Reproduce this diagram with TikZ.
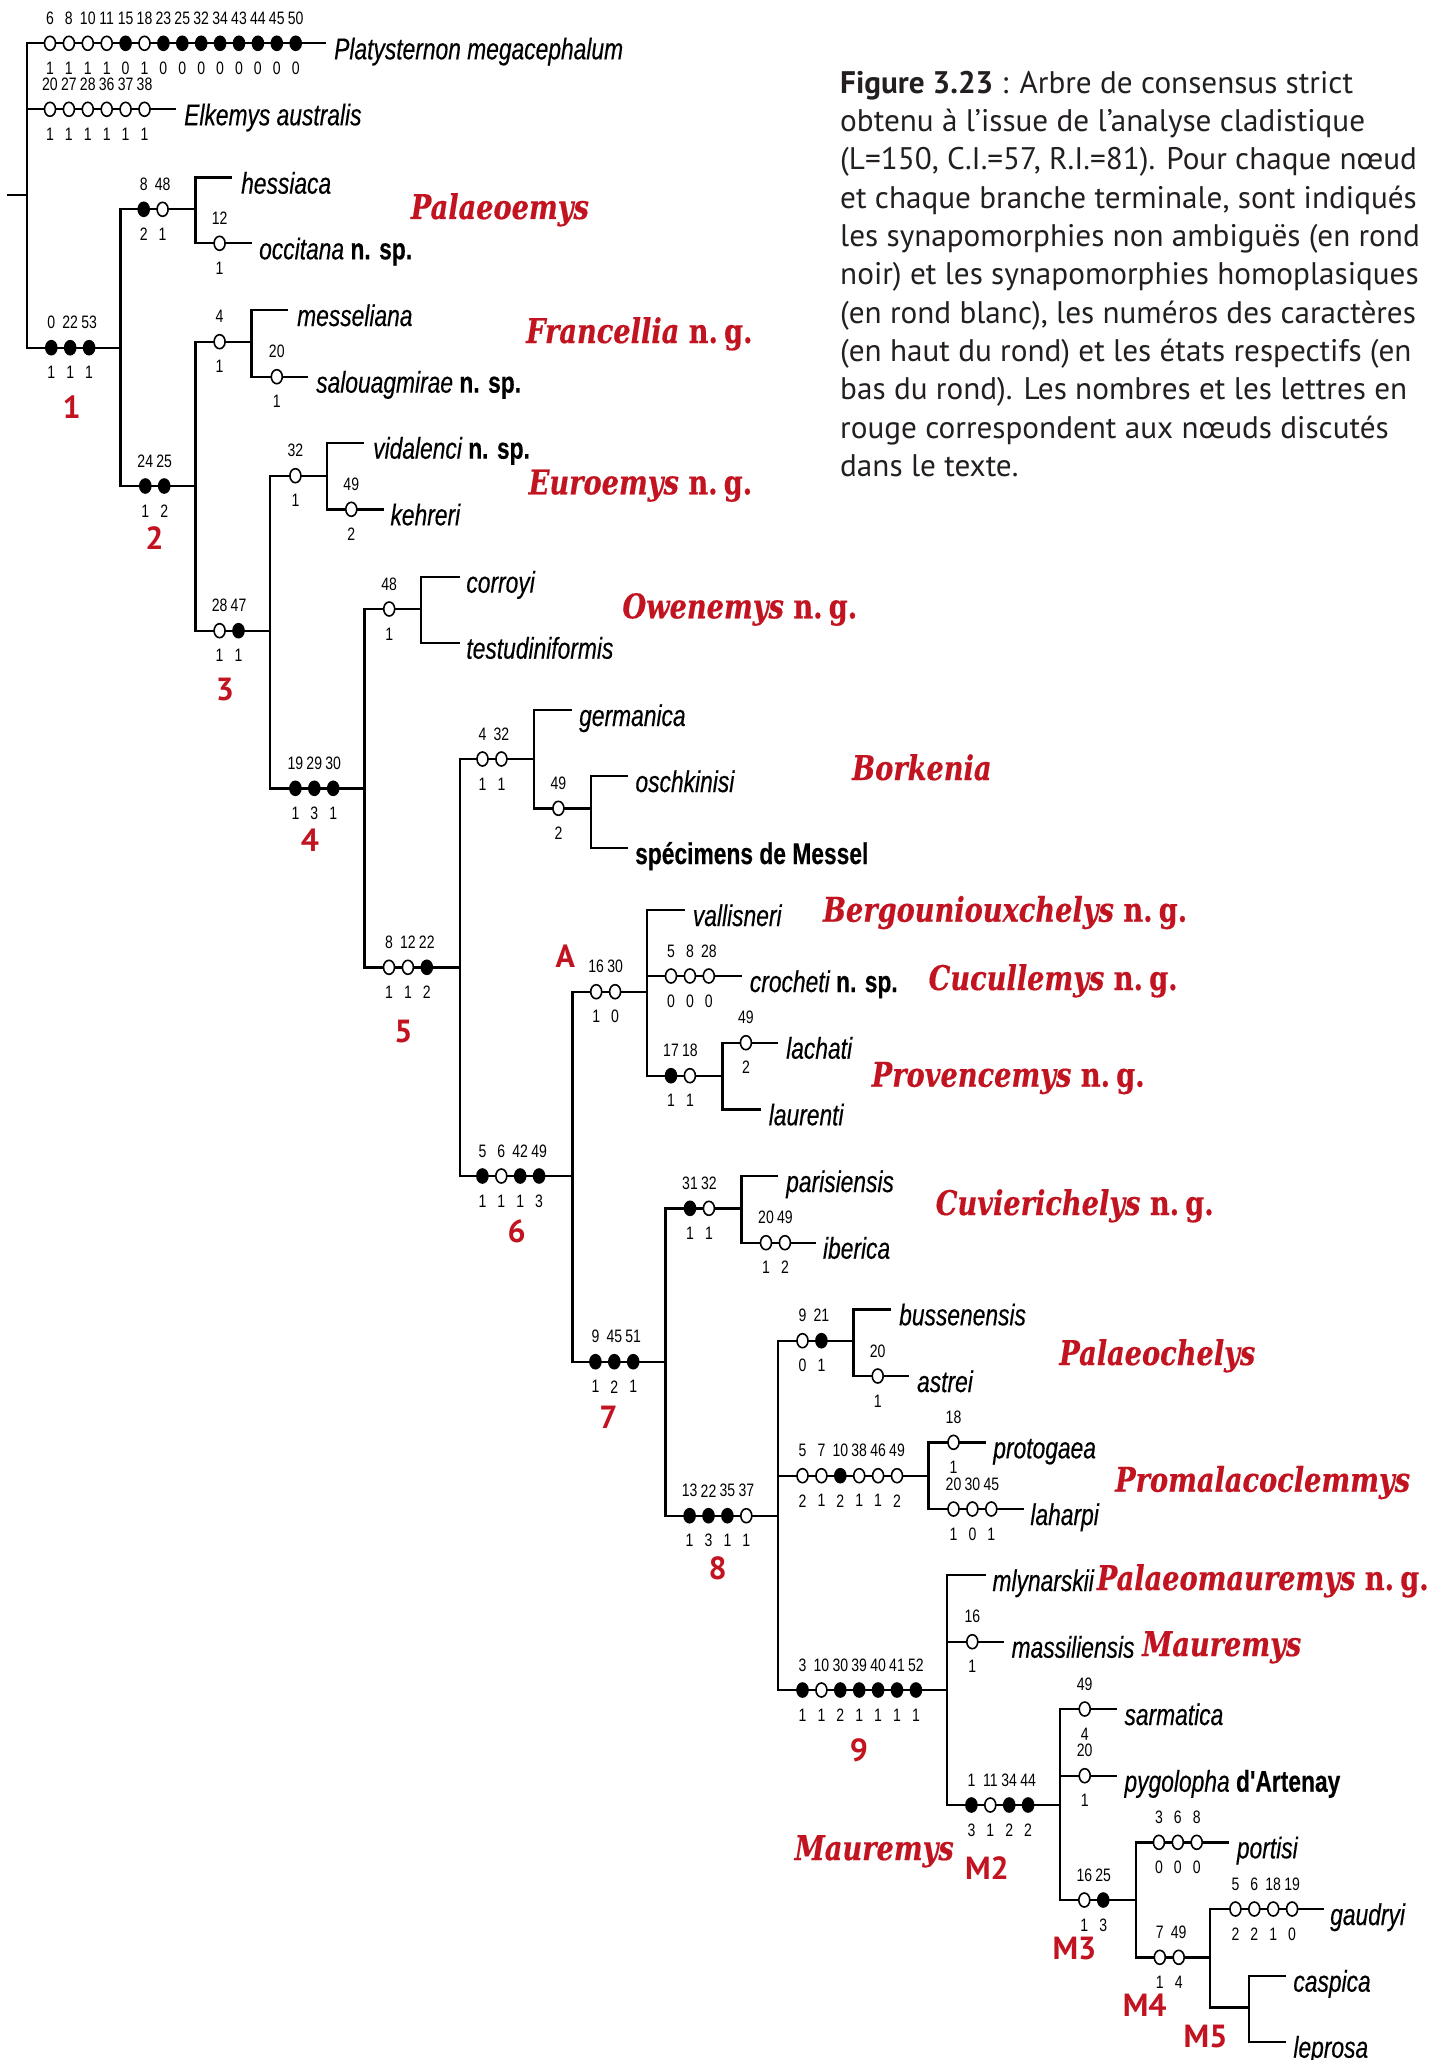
\documentclass[tikz,border=0pt]{standalone}
\usepackage{fontspec}
\usetikzlibrary{shapes.geometric}
\setmainfont{Liberation Sans}
\newfontfamily\taxfont[FakeStretch=0.76,FakeBold=0.3]{Liberation Sans}
\newfontfamily\numfont[FakeStretch=0.78]{Liberation Sans}
\newfontfamily\genfont[FakeStretch=0.8,FakeBold=0.4]{DejaVu Serif}
\newfontfamily\capfont{PT Sans}
\definecolor{cladered}{RGB}{194,20,32}
\definecolor{captext}{RGB}{35,31,32}

\tikzset{
  x=1pt, y=-1pt,
  branch/.style={line width=2.4pt, line join=miter},
  apo/.style={ellipse, draw, line width=1.6pt, minimum width=11pt, minimum height=14pt, inner sep=0pt},
  hom/.style={apo, fill=white},
  syn/.style={apo, fill=black},
  chnum/.style={inner sep=0pt, font=\numfont\fontsize{18}{18}\selectfont},
  taxon/.style={anchor=base west, inner sep=0pt, font=\taxfont\itshape\fontsize{30}{30}\selectfont},
  genus/.style={anchor=base west, inner sep=0pt, text=cladered, font=\genfont\bfseries\itshape\fontsize{34}{34}\selectfont},
  nodeid/.style={inner sep=0pt, text=cladered, font=\capfont\bfseries\fontsize{32}{32}\selectfont},
  caption/.style={anchor=base west, inner sep=0pt, text=captext, font=\capfont\fontsize{31.2}{31.2}\selectfont}
}

% one row of character states along a branch: name, first x, y, {kind/character/state,...}
\newcommand\charrow[4]{%
  \foreach \k/\c/\s [count=\i from 0] in {#4} {
    \node[\k] (#1-\i) at ({#2+\i*18.9},#3) {};
    \node[chnum] at ({#2+\i*18.9},{#3-25}) {\c};
    \node[chnum] at ({#2+\i*18.9},{#3+25}) {\s};
  }}
\newcommand\novgen{{\upshape n.\hspace{0.18em}g.}}
\newcommand\novsp{{\upshape\bfseries n. sp.}}

\begin{document}
\begin{tikzpicture}
\fill[white] (0,0) rectangle (1447,2060);
\useasboundingbox (0,0) rectangle (1447,2060);

% ---------- junction points ----------
\coordinate (stub) at (6.7,195);   \coordinate (root) at (26.8,195);
\coordinate (pl0) at (26.8,43.3);  \coordinate (plE) at (326,43.3);
\coordinate (el0) at (26.8,109.3); \coordinate (elE) at (176,109.3);
\coordinate (n1a) at (26.8,347.7); \coordinate (n1) at (120.5,347.7);
\coordinate (pa0) at (120.5,209.3); \coordinate (pa) at (195.5,209.3);
\coordinate (n2a) at (120.5,486);  \coordinate (n2) at (195.5,486);
\coordinate (he0) at (195.5,177.7); \coordinate (heE) at (232,177.7);
\coordinate (oc0) at (195.5,243.3); \coordinate (ocE) at (252,243.3);
\coordinate (fr0) at (195.5,341.7); \coordinate (fr) at (251.3,341.7);
\coordinate (n3a) at (195.5,630.7); \coordinate (n3) at (270,630.7);
\coordinate (me0) at (251.3,310);  \coordinate (meE) at (288,310);
\coordinate (sa0) at (251.3,376.7); \coordinate (saE) at (308,376.7);
\coordinate (eu0) at (270,475.7);  \coordinate (eu) at (327,475.7);
\coordinate (n4a) at (270,788.3);  \coordinate (n4) at (364.3,788.3);
\coordinate (vi0) at (327,442.7);  \coordinate (viE) at (364.3,442.7);
\coordinate (ke0) at (327,509.3);  \coordinate (keE) at (383.8,509.3);
\coordinate (ow0) at (364.3,609);  \coordinate (ow) at (420.7,609);
\coordinate (n5a) at (364.3,967.3); \coordinate (n5) at (459.7,967.3);
\coordinate (co0) at (420.7,576.7); \coordinate (coE) at (459.7,576.7);
\coordinate (te0) at (420.7,642.7); \coordinate (teE) at (459.7,642.7);
\coordinate (bo0) at (459.7,759);  \coordinate (bo) at (534,759);
\coordinate (n6a) at (459.7,1176); \coordinate (n6) at (572.4,1176);
\coordinate (ge0) at (534,710);    \coordinate (geE) at (572,710);
\coordinate (os0) at (534,808.3);  \coordinate (os) at (590.9,808.3);
\coordinate (ox0) at (590.9,776);  \coordinate (oxE) at (627.8,776);
\coordinate (ms0) at (590.9,848);  \coordinate (msE) at (627.8,848);
\coordinate (A0) at (572.4,991.7); \coordinate (A) at (646.7,991.7);
\coordinate (n7a) at (572.4,1361.7); \coordinate (n7) at (665.6,1361.7);
\coordinate (va0) at (646.7,910);  \coordinate (vaE) at (684.6,910);
\coordinate (cr0) at (646.7,976);  \coordinate (crE) at (741.5,976);
\coordinate (pr0) at (646.7,1075.7); \coordinate (pr) at (722.5,1075.7);
\coordinate (la0) at (722.5,1042.7); \coordinate (laE) at (778.4,1042.7);
\coordinate (lu0) at (722.5,1109.3); \coordinate (luE) at (760.5,1109.3);
\coordinate (cu0) at (665.6,1208.3); \coordinate (cu) at (741.5,1208.3);
\coordinate (n8a) at (665.6,1515.7); \coordinate (n8) at (778,1515.7);
\coordinate (pz0) at (741.5,1176); \coordinate (pzE) at (778.4,1176);
\coordinate (ib0) at (741.5,1242.7); \coordinate (ibE) at (816.3,1242.7);
\coordinate (pc0) at (778,1340.7); \coordinate (pc) at (853.3,1340.7);
\coordinate (pm0) at (778,1475.7); \coordinate (pm) at (928.5,1475.7);
\coordinate (n9a) at (778,1690);   \coordinate (n9) at (946.9,1690);
\coordinate (bu0) at (853.3,1309.3); \coordinate (buE) at (891.4,1309.3);
\coordinate (as0) at (853.3,1376); \coordinate (asE) at (909.2,1376);
\coordinate (pt0) at (928.5,1442.3); \coordinate (ptE) at (985.5,1442.3);
\coordinate (lh0) at (928.5,1509); \coordinate (lhE) at (1023.6,1509);
\coordinate (ml0) at (946.9,1575); \coordinate (mlE) at (985.6,1575);
\coordinate (mt0) at (946.9,1641.7); \coordinate (mtE) at (1004.3,1641.7);
\coordinate (m2a) at (946.9,1805); \coordinate (m2) at (1059.8,1805);
\coordinate (sm0) at (1059.8,1709); \coordinate (smE) at (1116.7,1709);
\coordinate (py0) at (1059.8,1775.7); \coordinate (pyE) at (1116.7,1775.7);
\coordinate (m3a) at (1059.8,1900); \coordinate (m3) at (1135.8,1900);
\coordinate (po0) at (1135.8,1842.3); \coordinate (poE) at (1229.2,1842.3);
\coordinate (m4a) at (1135.8,1957.3); \coordinate (m4) at (1210,1957.3);
\coordinate (ga0) at (1210,1909);  \coordinate (gaE) at (1324.3,1909);
\coordinate (m5a) at (1210,2007.3); \coordinate (m5) at (1248.7,2007.3);
\coordinate (ca0) at (1248.7,1975.7); \coordinate (caE) at (1285.6,1975.7);
\coordinate (le0) at (1248.7,2041.7); \coordinate (leE) at (1285.6,2041.7);

% ---------- branches ----------
\draw[branch] (stub) -- (root);
\draw[branch] (plE) -- (pl0) -- (n1a) -- (n1);
\draw[branch] (el0) -- (elE);
\draw[branch] (pa) -- (pa0) -- (n2a) -- (n2);
\draw[branch] (heE) -- (he0) -- (oc0) -- (ocE);
\draw[branch] (fr) -- (fr0) -- (n3a) -- (n3);
\draw[branch] (meE) -- (me0) -- (sa0) -- (saE);
\draw[branch] (eu) -- (eu0) -- (n4a) -- (n4);
\draw[branch] (viE) -- (vi0) -- (ke0) -- (keE);
\draw[branch] (ow) -- (ow0) -- (n5a) -- (n5);
\draw[branch] (coE) -- (co0) -- (te0) -- (teE);
\draw[branch] (bo) -- (bo0) -- (n6a) -- (n6);
\draw[branch] (geE) -- (ge0) -- (os0) -- (os);
\draw[branch] (oxE) -- (ox0) -- (ms0) -- (msE);
\draw[branch] (A) -- (A0) -- (n7a) -- (n7);
\draw[branch] (vaE) -- (va0) -- (pr0) -- (pr);
\draw[branch] (cr0) -- (crE);
\draw[branch] (laE) -- (la0) -- (lu0) -- (luE);
\draw[branch] (cu) -- (cu0) -- (n8a) -- (n8);
\draw[branch] (pzE) -- (pz0) -- (ib0) -- (ibE);
\draw[branch] (pc) -- (pc0) -- (n9a) -- (n9);
\draw[branch] (pm0) -- (pm);
\draw[branch] (buE) -- (bu0) -- (as0) -- (asE);
\draw[branch] (ptE) -- (pt0) -- (lh0) -- (lhE);
\draw[branch] (mlE) -- (ml0) -- (m2a) -- (m2);
\draw[branch] (mt0) -- (mtE);
\draw[branch] (smE) -- (sm0) -- (m3a) -- (m3);
\draw[branch] (py0) -- (pyE);
\draw[branch] (poE) -- (po0) -- (m4a) -- (m4);
\draw[branch] (gaE) -- (ga0) -- (m5a) -- (m5);
\draw[branch] (caE) -- (ca0) -- (le0) -- (leE);

% ---------- character states ----------
\charrow{cPl}{50}{43.3}{hom/6/1,hom/8/1,hom/10/1,hom/11/1,syn/15/0,hom/18/1,syn/23/0,syn/25/0,syn/32/0,syn/34/0,syn/43/0,syn/44/0,syn/45/0,syn/50/0}
\charrow{cEl}{50}{109.3}{hom/20/1,hom/27/1,hom/28/1,hom/36/1,hom/37/1,hom/38/1}
\charrow{cN1}{51.3}{347.7}{syn/0/1,syn/22/1,syn/53/1}
\charrow{cPa}{143.7}{209.3}{syn/8/2,hom/48/1}
\charrow{cOc}{219.6}{243.3}{hom/12/1}
\charrow{cN2}{145.3}{486}{syn/24/1,syn/25/2}
\charrow{cFr}{219.6}{341.7}{hom/4/1}
\charrow{cSa}{276.8}{376.7}{hom/20/1}
\charrow{cN3}{219.6}{630.7}{hom/28/1,syn/47/1}
\charrow{cEu}{295.4}{475.7}{hom/32/1}
\charrow{cKe}{351.3}{509.3}{hom/49/2}
\charrow{cN4}{295.4}{788.3}{syn/19/1,syn/29/3,syn/30/1}
\charrow{cOw}{389.2}{609}{hom/48/1}
\charrow{cN5}{389}{967.3}{hom/8/1,hom/12/1,syn/22/2}
\charrow{cBo}{482.5}{759}{hom/4/1,hom/32/1}
\charrow{cOs}{558.4}{808.3}{hom/49/2}
\charrow{cN6}{482.4}{1176}{syn/5/1,hom/6/1,syn/42/1,syn/49/3}
\charrow{cA}{596.2}{991.7}{hom/16/1,hom/30/0}
\charrow{cCr}{671}{976}{hom/5/0,hom/8/0,hom/28/0}
\charrow{cPr}{671}{1075.7}{syn/17/1,hom/18/1}
\charrow{cLa}{745.9}{1042.7}{hom/49/2}
\charrow{cN7}{595.4}{1361.7}{syn/9/1,syn/45/2,syn/51/1}
\charrow{cCu}{690}{1208.3}{syn/31/1,hom/32/1}
\charrow{cIb}{766}{1242.7}{hom/20/1,hom/49/2}
\charrow{cN8}{689.6}{1515.7}{syn/13/1,syn/22/3,syn/35/1,hom/37/1}
\charrow{cPc}{802.5}{1340.7}{hom/9/0,syn/21/1}
\charrow{cAs}{877.7}{1376}{hom/20/1}
\charrow{cPm}{802.5}{1475.7}{hom/5/2,hom/7/1,syn/10/2,hom/38/1,hom/46/1,hom/49/2}
\charrow{cPt}{953.5}{1442.3}{hom/18/1}
\charrow{cLh}{953.5}{1509}{hom/20/1,hom/30/0,hom/45/1}
\charrow{cN9}{802.5}{1690}{syn/3/1,hom/10/1,syn/30/2,syn/39/1,syn/40/1,syn/41/1,syn/52/1}
\charrow{cMt}{972.3}{1641.7}{hom/16/1}
\charrow{cM2}{971.4}{1805}{syn/1/3,hom/11/1,syn/34/2,syn/44/2}
\charrow{cSm}{1084.7}{1709}{hom/49/4}
\charrow{cPy}{1084.7}{1775.7}{hom/20/1}
\charrow{cM3}{1084.3}{1900}{hom/16/1,syn/25/3}
\charrow{cPo}{1158.9}{1842.3}{hom/3/0,hom/6/0,hom/8/0}
\charrow{cM4}{1159.8}{1957.3}{hom/7/1,hom/49/4}
\charrow{cGa}{1235.4}{1909}{hom/5/2,hom/6/2,hom/18/1,hom/19/0}

% ---------- terminal taxa ----------
\node[taxon] (tPl) at (334,59.3) {Platysternon megacephalum};
\node[taxon] (tEl) at (184,125.3) {Elkemys australis};
\node[taxon] (tHe) at (241,193.7) {hessiaca};
\node[taxon] (tOc) at (259,259.3) {occitana \novsp};
\node[taxon] (tMe) at (297,326) {messeliana};
\node[taxon] (tSa) at (316,392.7) {salouagmirae \novsp};
\node[taxon] (tVi) at (373,458.7) {vidalenci \novsp};
\node[taxon] (tKe) at (390.3,525.3) {kehreri};
\node[taxon] (tCo) at (466.2,592.7) {corroyi};
\node[taxon] (tTe) at (466.2,658.7) {testudiniformis};
\node[taxon] (tGe) at (579,726) {germanica};
\node[taxon] (tOx) at (635.3,792) {oschkinisi};
\node[taxon] (tMs) at (635,864) {\upshape\bfseries spécimens de Messel};
\node[taxon] (tVa) at (692.7,926) {vallisneri};
\node[taxon] (tCr) at (749.7,992) {crocheti \novsp};
\node[taxon] (tLa) at (786,1058.7) {lachati};
\node[taxon] (tLu) at (768.6,1125.3) {laurenti};
\node[taxon] (tPz) at (786,1192) {parisiensis};
\node[taxon] (tIb) at (822.8,1258.7) {iberica};
\node[taxon] (tBu) at (899,1325.3) {bussenensis};
\node[taxon] (tAs) at (916.9,1392) {astrei};
\node[taxon] (tPt) at (993.1,1458.3) {protogaea};
\node[taxon] (tLh) at (1030.2,1525) {laharpi};
\node[taxon] (tMl) at (992.3,1591) {mlynarskii};
\node[taxon] (tMt) at (1011.4,1657.7) {massiliensis};
\node[taxon] (tSm) at (1124.3,1725) {sarmatica};
\node[taxon] (tPy) at (1124.3,1791.7) {pygolopha {\upshape\bfseries d'Artenay}};
\node[taxon] (tPo) at (1236.7,1858.3) {portisi};
\node[taxon] (tGa) at (1330,1925) {gaudryi};
\node[taxon] (tCa) at (1293.2,1991.7) {caspica};
\node[taxon] (tLe) at (1293.2,2057.7) {leprosa};

% ---------- genera ----------
\node[genus] (gPa) at (410.7,219) {Palaeoemys};
\node[genus] (gFr) at (526,343) {Francellia \novgen};
\node[genus] (gEu) at (528.5,494.3) {Euroemys \novgen};
\node[genus] (gOw) at (622.3,618.3) {Owenemys \novgen};
\node[genus] (gBo) at (852,780) {Borkenia};
\node[genus] (gBe) at (822.8,921.7) {Bergouniouxchelys \novgen};
\node[genus] (gCu) at (928.5,990) {Cucullemys \novgen};
\node[genus] (gPr) at (871.6,1086.7) {Provencemys \novgen};
\node[genus] (gCv) at (935.6,1215) {Cuvierichelys \novgen};
\node[genus] (gPc) at (1059.2,1365) {Palaeochelys};
\node[genus] (gPm) at (1115,1491.7) {Promalacoclemmys};
\node[genus] (gPl) at (1096.7,1590) {Palaeomauremys \novgen};
\node[genus] (gMa) at (1142,1656) {Mauremys};
\node[genus] (gMb) at (794.5,1860) {Mauremys};

% ---------- node numbers ----------
\node[nodeid] (i1) at (71.6,407) {1};
\node[nodeid] (i2) at (154.5,538.3) {2};
\node[nodeid] (i3) at (225,690) {3};
\node[nodeid] (i4) at (310,840) {4};
\node[nodeid] (i5) at (403.5,1031.7) {5};
\node[nodeid] (i6) at (516.6,1231.7) {6};
\node[nodeid] (iA) at (565.3,956) {A};
\node[nodeid] (i7) at (608.5,1416.8) {7};
\node[nodeid] (i8) at (717.6,1568.3) {8};
\node[nodeid] (i9) at (858.9,1750) {9};
\node[nodeid] (iM2) at (987,1868.3) {M2};
\node[nodeid] (iM3) at (1074.5,1948.3) {M3};
\node[nodeid] (iM4) at (1144.7,2005) {M4};
\node[nodeid] (iM5) at (1205.6,2036.7) {M5};

% ---------- caption ----------
\foreach \ln [count=\j from 0] in {
  {{\bfseries Figure 3.23} : Arbre de consensus strict},
  {obtenu à l’issue de l’analyse cladistique},
  {(L=150, C.I.=57, R.I.=81). Pour chaque nœud},
  {et chaque branche terminale, sont indiqués},
  {les synapomorphies non ambiguës (en rond},
  {noir) et les synapomorphies homoplasiques},
  {(en rond blanc), les numéros des caractères},
  {(en haut du rond) et les états respectifs (en},
  {bas du rond). Les nombres et les lettres en},
  {rouge correspondent aux nœuds discutés},
  {dans le texte.}}
  \node[caption] (cap\j) at (840,{93.3+\j*38.3}) {\ln};
\end{tikzpicture}
\end{document}
